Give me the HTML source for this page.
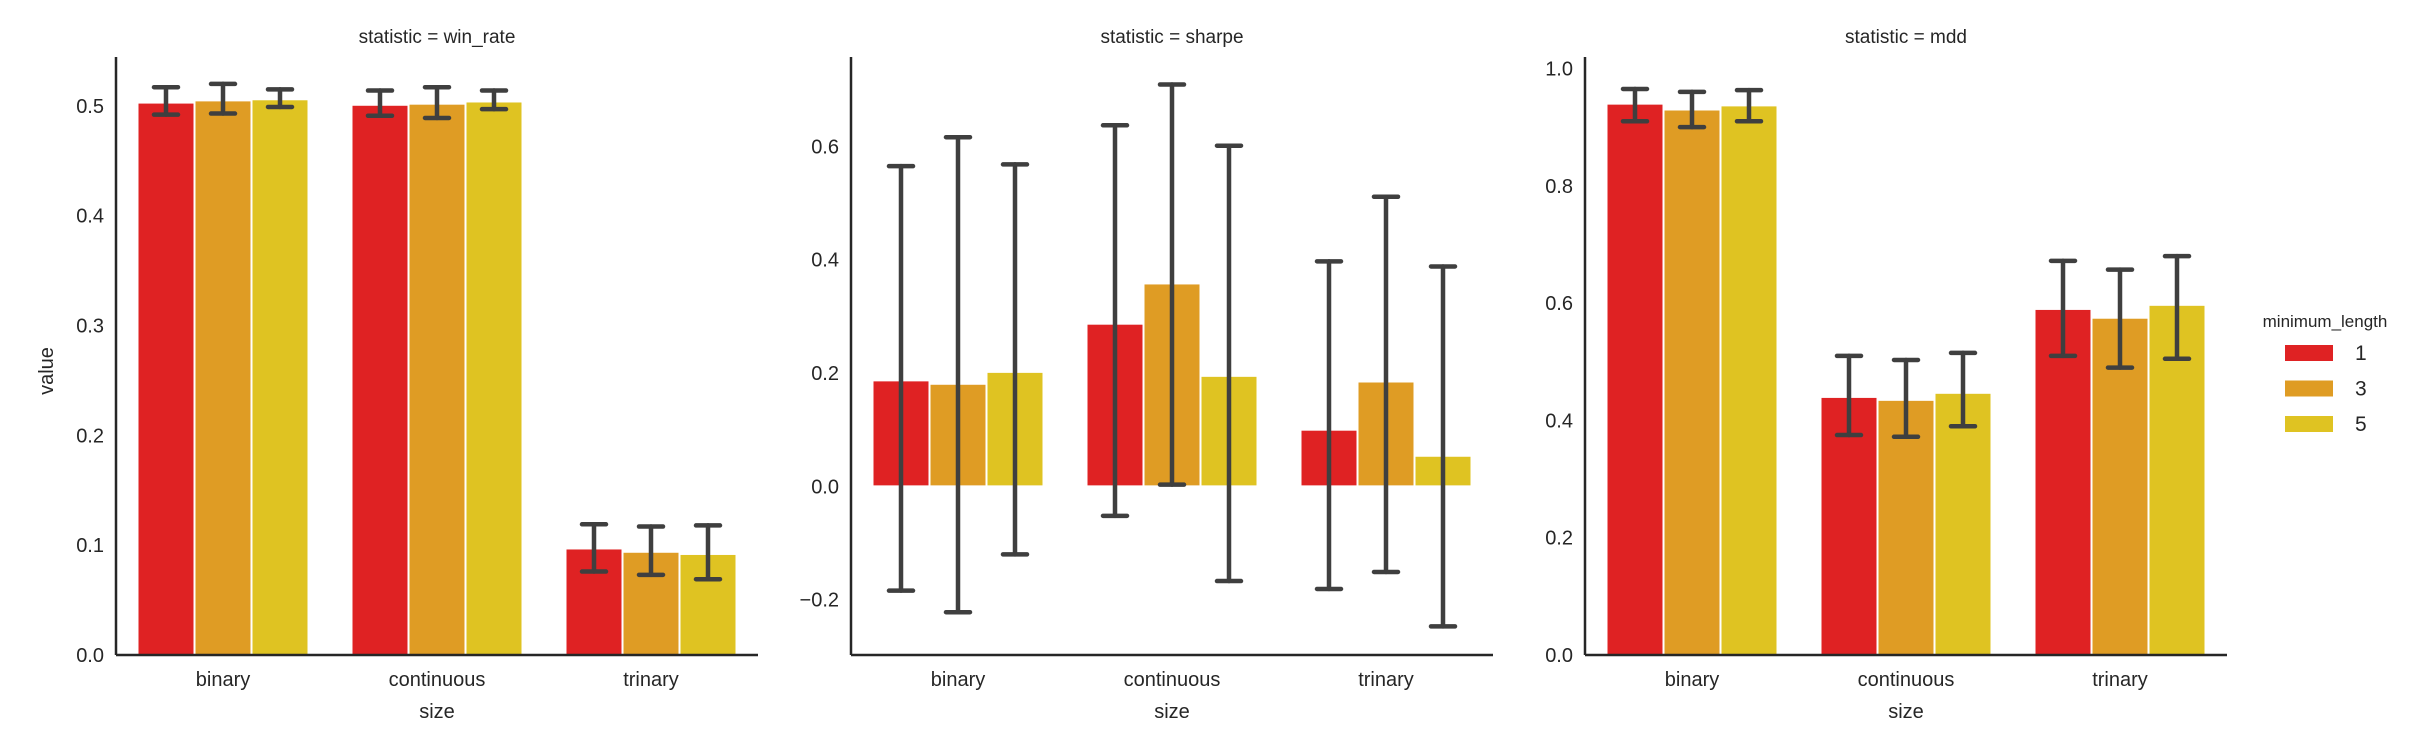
<!DOCTYPE html>
<html><head><meta charset="utf-8"><style>
html,body{margin:0;padding:0;background:#fff;}
svg{display:block;font-family:"Liberation Sans",sans-serif;}
</style></head><body>
<svg id="chart" width="2426" height="750" viewBox="0 0 2426 750" xmlns="http://www.w3.org/2000/svg"></svg>
<script>
const categories = ["binary", "continuous", "trinary"];
const hueLevels = ["1", "3", "5"];
const colors = ["#df2223", "#df9c24", "#dfc322"];
const panelTitles = ["statistic = win_rate", "statistic = sharpe", "statistic = mdd"];
// values[hue][category]
const winRateValues = [[0.503, 0.501, 0.097], [0.505, 0.502, 0.094], [0.506, 0.504, 0.092]];
const winRateHigh = [[0.517, 0.514, 0.119], [0.520, 0.517, 0.117], [0.515, 0.514, 0.118]];
const winRateLow = [[0.492, 0.491, 0.076], [0.493, 0.489, 0.073], [0.499, 0.497, 0.069]];
const sharpeValues = [[0.187, 0.287, 0.100], [0.181, 0.358, 0.185], [0.202, 0.195, 0.054]];
const sharpeHigh = [[0.565, 0.637, 0.397], [0.616, 0.709, 0.511], [0.568, 0.601, 0.388]];
const sharpeLow = [[-0.184, -0.052, -0.181], [-0.222, 0.003, -0.151], [-0.120, -0.167, -0.247]];
const mddValues = [[0.940, 0.440, 0.590], [0.930, 0.435, 0.575], [0.937, 0.447, 0.597]];
const mddHigh = [[0.965, 0.510, 0.672], [0.960, 0.503, 0.657], [0.963, 0.515, 0.680]];
const mddLow = [[0.910, 0.375, 0.510], [0.900, 0.372, 0.490], [0.910, 0.390, 0.505]];
const winRateTicks = [0.0, 0.1, 0.2, 0.3, 0.4, 0.5];
const sharpeTicks = [-0.2, 0.0, 0.2, 0.4, 0.6];
const mddTicks = [0.0, 0.2, 0.4, 0.6, 0.8, 1.0];

const NS = "http://www.w3.org/2000/svg";
const svg = document.getElementById("chart");
function mk(tag, attrs, parent, text) {
  const e = document.createElementNS(NS, tag);
  for (const k in attrs) e.setAttribute(k, attrs[k]);
  if (text !== undefined) e.textContent = text;
  (parent || svg).appendChild(e);
  return e;
}
const panels = [
  {x0: 116, ymin: 0, ymax: 0.5445, vals: winRateValues, hi: winRateHigh, lo: winRateLow, ticks: winRateTicks, key: "win-rate"},
  {x0: 851, ymin: -0.2975, ymax: 0.7575, vals: sharpeValues, hi: sharpeHigh, lo: sharpeLow, ticks: sharpeTicks, key: "sharpe"},
  {x0: 1585, ymin: 0, ymax: 1.0195, vals: mddValues, hi: mddHigh, lo: mddLow, ticks: mddTicks, key: "mdd"}
];
const yTop = 57, yBot = 655, W = 642, step = 214, barW = 57;
panels.forEach((p, pi) => {
  const g = mk("g", {});
  
  
  const yS = v => yBot - (v - p.ymin) / (p.ymax - p.ymin) * (yBot - yTop);
  const xC = i => p.x0 + step / 2 + step * i;
  // bars
  for (let h = 0; h < hueLevels.length; h++) {
    for (let c = 0; c < categories.length; c++) {
      const v = p.vals[h][c];
      const x = xC(c) + (h - 1) * barW - barW / 2;
      const y1 = yS(Math.max(v, 0)), y2 = yS(Math.min(v, 0));
      const r = mk("rect", {x: x, y: y1, width: barW, height: Math.max(0, y2 - y1), fill: colors[h], stroke: "#fff", "stroke-width": 2}, g);
      
      
    }
  }
  // error bars
  for (let h = 0; h < hueLevels.length; h++) {
    for (let c = 0; c < categories.length; c++) {
      const cx = xC(c) + (h - 1) * barW;
      const eg = mk("g", {stroke: "#3f3f3f", "stroke-width": 4.5, "stroke-linecap": "round"}, g);
      
      
      const a = yS(p.hi[h][c]), b = yS(p.lo[h][c]);
      mk("line", {x1: cx, x2: cx, y1: a, y2: b}, eg);
      mk("line", {x1: cx - 12, x2: cx + 12, y1: a, y2: a}, eg);
      mk("line", {x1: cx - 12, x2: cx + 12, y1: b, y2: b}, eg);
    }
  }
  // axes
  const ax = mk("line", {x1: p.x0, x2: p.x0, y1: yTop, y2: yBot, stroke: "#262626", "stroke-width": 2.5}, g);
  
  
  const bx = mk("line", {x1: p.x0, x2: p.x0 + W, y1: yBot, y2: yBot, stroke: "#262626", "stroke-width": 2.5}, g);
  
  
  p.ticks.forEach(t => {
    const tl = mk("text", {x: p.x0 - 12, y: yS(t) + 7, "text-anchor": "end", "font-size": 20, fill: "#262626"}, g, t.toFixed(1).replace("-", "\u2212"));
    
    
  });
  categories.forEach((c, i) => {
    const tl = mk("text", {x: xC(i), y: 686, "text-anchor": "middle", "font-size": 20, fill: "#262626"}, g, c);
    
    
  });
  const xt = mk("text", {x: p.x0 + W / 2, y: 718, "text-anchor": "middle", "font-size": 20, fill: "#262626"}, g, "size");
  
  
  const tt = mk("text", {x: p.x0 + W / 2, y: 43, "text-anchor": "middle", "font-size": 19, fill: "#262626"}, g, panelTitles[pi]);
  
  
});
const yl = mk("text", {x: 0, y: 0, transform: "translate(53,371) rotate(-90)", "text-anchor": "middle", "font-size": 20, fill: "#262626"}, svg, "value");


// legend
const lg = mk("g", {});


const lt = mk("text", {x: 2325, y: 327, "text-anchor": "middle", "font-size": 17, fill: "#262626"}, lg, "minimum_length");


hueLevels.forEach((h, i) => {
  const y = 345 + i * 35.5;
  const e = mk("g", {}, lg);
  
  
  mk("rect", {x: 2285, y: y, width: 48, height: 16, fill: colors[i]}, e);
  mk("text", {x: 2355, y: y + 15, "font-size": 21, fill: "#262626"}, e, h);
});
</script>
</body></html>
